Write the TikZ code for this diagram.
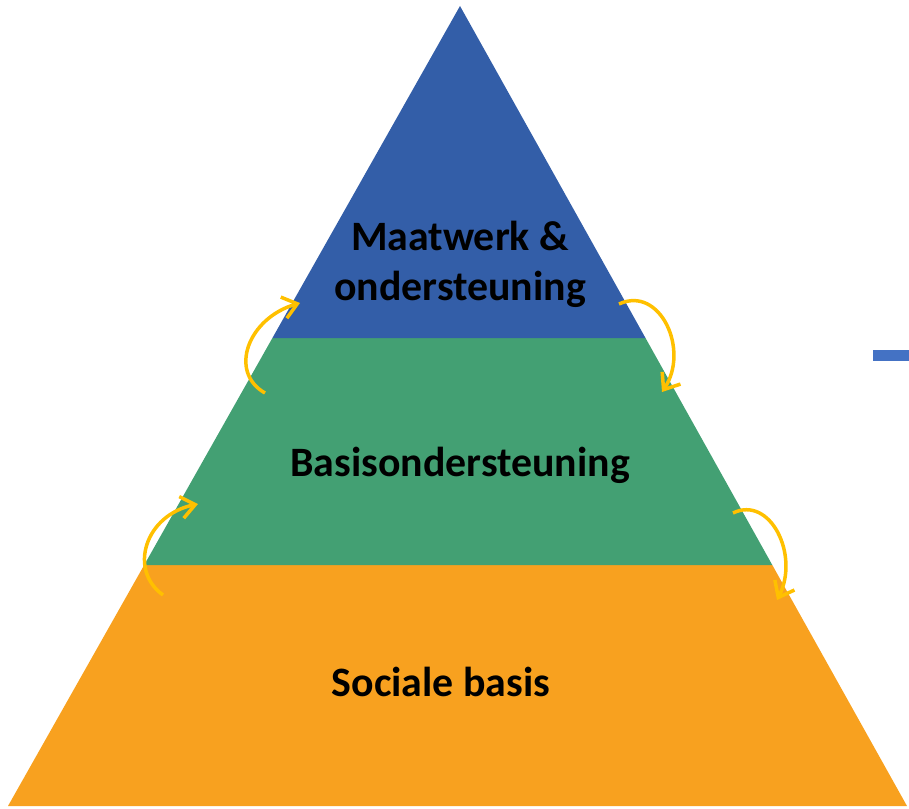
\documentclass[tikz,border=0pt]{standalone}
\usepackage{fontspec}
\setmainfont{Carlito}
\usetikzlibrary{arrows.meta}
\definecolor{tierblue}{RGB}{51,94,168}
\definecolor{tiergreen}{RGB}{67,160,115}
\definecolor{tierorange}{RGB}{248,161,31}
\definecolor{cycleyellow}{RGB}{255,192,0}
\definecolor{markblue}{RGB}{68,114,196}
\begin{document}
\begin{tikzpicture}[x=1bp, y=-1bp,
    tiertext/.style={font=\bfseries\fontsize{42}{50}\selectfont, align=center, anchor=base},
    cyclearrow/.style={draw=cycleyellow, line width=3.5bp, -{Straight Barb[length=14bp,width=22bp]}}]
  \useasboundingbox (0,0) rectangle (909,809);
  % corners of the pyramid and its tiers
  \coordinate (apex) at (460,6);
  \coordinate (tl) at (272.4,338);
  \coordinate (tr) at (645.5,338);
  \coordinate (ml) at (144.2,565);
  \coordinate (mr) at (772.3,565);
  \coordinate (bl) at (8,806);
  \coordinate (br) at (907,806);
  \fill [tierorange] (ml) -- (mr) -- (br) -- (bl) -- cycle;
  \fill [tiergreen] (tl) -- (tr) -- (mr) -- (ml) -- cycle;
  \fill [tierblue] (apex) -- (tr) -- (tl) -- cycle;
  \fill [markblue] (873,350) rectangle (909,361);
  % tier labels
  \node (top) [tiertext] at (460,300) {Maatwerk \&\\ondersteuning};
  \node (mid) [tiertext] at (460,476) {Basisondersteuning};
  \node (base) [tiertext] at (441,696) {Sociale basis};
  % arrows between the tiers
  \coordinate (up1s) at (163,595);
  \coordinate (up1e) at (198,504);
  \coordinate (up2s) at (265,393);
  \coordinate (up2e) at (300,303);
  \coordinate (dn1s) at (619,304);
  \coordinate (dn1e) at (662,392);
  \coordinate (dn2s) at (733,513);
  \coordinate (dn2e) at (777,600);
  \draw [cyclearrow] (up1s) .. controls (128,570) and (145,515) .. (up1e);
  \draw [cyclearrow] (up2s) .. controls (228,372) and (248,318) .. (up2e);
  \draw [cyclearrow] (dn1s) .. controls (660,285) and (690,350) .. (dn1e);
  \draw [cyclearrow] (dn2s) .. controls (770,495) and (800,555) .. (dn2e);
\end{tikzpicture}
\end{document}
